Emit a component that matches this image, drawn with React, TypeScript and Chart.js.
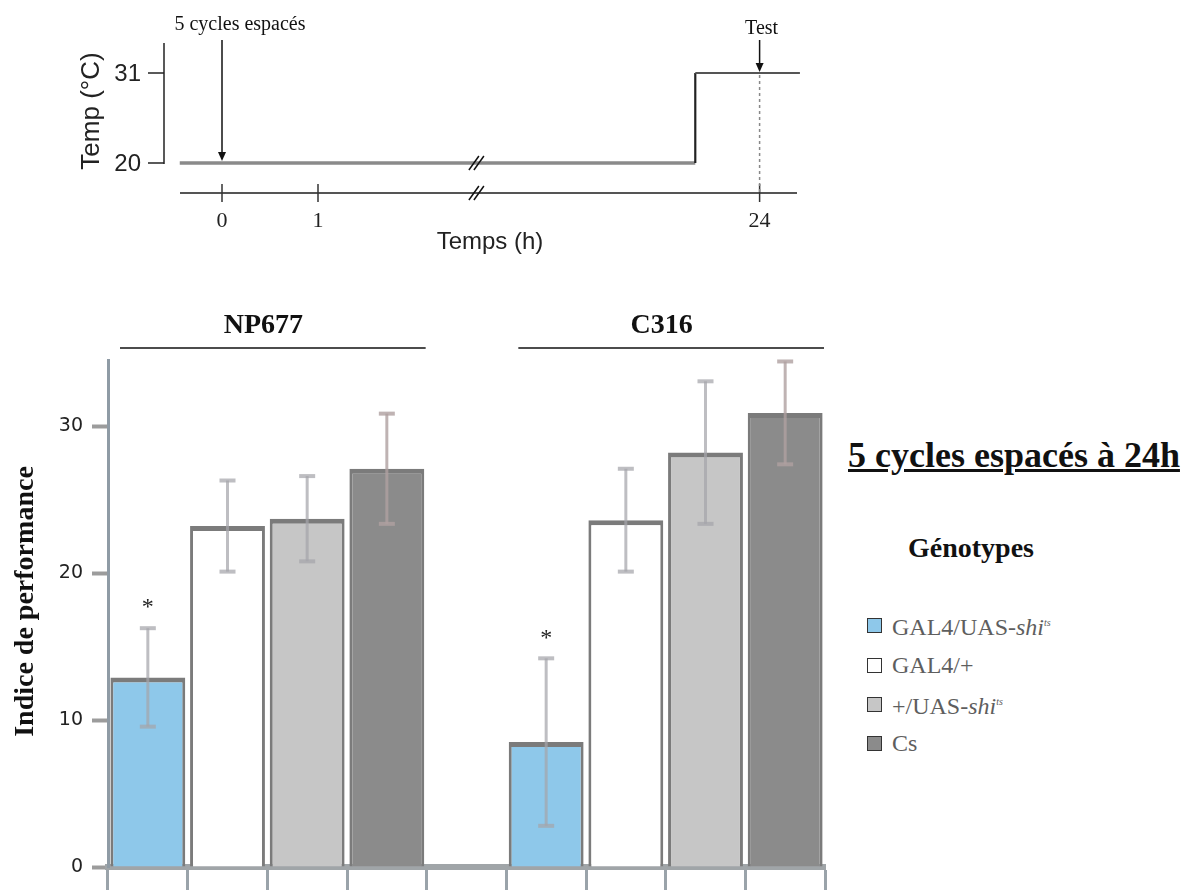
import React, { useEffect, useRef } from "react";
import { Chart, registerables } from "chart.js";

Chart.register(...registerables);

// ---------- Protocol schematic (top) ----------
const protocolTimeLabels = ["0", "1", "24"];
const protocolTimePositions = [0, 1, 5.6]; // positions on the broken time axis
const protocolTempTicks = [20, 31];
const protocolProfileX = [-0.44, 4.93, 4.93, 6.02];
const protocolProfileTemp = [20, 20, 31, 31];
const protocolBreakX = 2.65;
const protocolTrainingX = 0;
const protocolTestX = 5.6;
const protocolTrainingLabel = "5 cycles espacés";
const protocolTestLabel = "Test";

// ---------- Bar chart ----------
const groups = ["NP677", "C316"];
const genotypes = ["GAL4/UAS-shits", "GAL4/+", "+/UAS-shits", "Cs"];
const np677Means = [12.9, 23.2, 23.7, 27.1];
const np677Sem = [3.35, 3.1, 2.9, 3.75];
const c316Means = [8.5, 23.6, 28.2, 30.9];
const c316Sem = [5.7, 3.5, 4.85, 3.5];
const np677Significant = [true, false, false, false];
const c316Significant = [true, false, false, false];
const yTickValues = [0, 10, 20, 30];
const yMax = 34.5;

const genotypeFill = ["#8ec8ea", "#ffffff", "#c6c6c6", "#8b8b8b"];
const legendParts: [string, string, string][] = [
  ["GAL4/UAS-", "shi", "ts"],
  ["GAL4/+", "", ""],
  ["+/UAS-", "shi", "ts"],
  ["Cs", "", ""],
];

const groupMeans = [np677Means, c316Means];
const groupSem = [np677Sem, c316Sem];
const groupSig = [np677Significant, c316Significant];

const slotLabels: string[] = [];
const slotGroup: number[] = [];
const slotGeno: number[] = [];
groups.forEach((g, gi) => {
  if (gi > 0) {
    slotLabels.push("");
    slotGroup.push(-1);
    slotGeno.push(-1);
  }
  genotypes.forEach((ge, k) => {
    slotLabels.push(`${g} ${ge}`);
    slotGroup.push(gi);
    slotGeno.push(k);
  });
});

function seg(ctx: CanvasRenderingContext2D, x1: number, y1: number, x2: number, y2: number) {
  ctx.beginPath();
  ctx.moveTo(x1, y1);
  ctx.lineTo(x2, y2);
  ctx.stroke();
}

const protocolDecor = {
  id: "protocolDecor",
  afterDatasetsDraw(chart: any) {
    const { ctx, chartArea, scales } = chart;
    const X = (v: number) => scales.x.getPixelForValue(v);
    const Y = (v: number) => scales.y.getPixelForValue(v);
    const arrowDown = (x: number, y1: number, y2: number) => {
      seg(ctx, x, y1, x, y2 - 6);
      ctx.beginPath();
      ctx.moveTo(x - 4, y2 - 9);
      ctx.lineTo(x + 4, y2 - 9);
      ctx.lineTo(x, y2);
      ctx.closePath();
      ctx.fill();
    };
    ctx.save();
    // temperature axis
    const axisX = chartArea.left - 16;
    ctx.strokeStyle = "#222";
    ctx.fillStyle = "#222";
    ctx.lineWidth = 1.5;
    seg(ctx, axisX, chartArea.top - 4, axisX, Y(protocolTempTicks[0]) + 1);
    ctx.font = '24px "Liberation Sans"';
    ctx.textAlign = "right";
    ctx.textBaseline = "middle";
    protocolTempTicks.forEach((t) => {
      seg(ctx, axisX - 16, Y(t), axisX, Y(t));
      ctx.fillText(String(t), axisX - 23, Y(t) + 1);
    });
    ctx.save();
    ctx.translate(92, (chartArea.top + Y(protocolTempTicks[0])) / 2 + 6);
    ctx.rotate(-Math.PI / 2);
    ctx.textAlign = "center";
    ctx.font = '26px "Liberation Sans"';
    ctx.fillText("Temp (°C)", 0, 0);
    ctx.restore();

    // time axis
    const by = chartArea.bottom;
    ctx.strokeStyle = "#555";
    ctx.lineWidth = 2;
    seg(ctx, chartArea.left, by, chartArea.right - 3, by);
    ctx.strokeStyle = "#333";
    ctx.lineWidth = 1.5;
    ctx.textAlign = "center";
    ctx.font = '22px "Liberation Serif"';
    protocolTimePositions.forEach((p, i) => {
      seg(ctx, X(p), by - 9, X(p), by + 9);
      ctx.fillText(protocolTimeLabels[i], X(p), by + 28);
    });
    ctx.font = '24px "Liberation Sans"';
    ctx.fillText("Temps (h)", (chartArea.left + chartArea.right) / 2, by + 49);

    // break marks
    ctx.strokeStyle = "#111";
    ctx.lineWidth = 1.5;
    [Y(protocolTempTicks[0]), by].forEach((cy) => {
      const cx = X(protocolBreakX);
      [-2.5, 2.5].forEach((dx) => seg(ctx, cx + dx - 5, cy + 7, cx + dx + 5, cy - 7));
    });

    // dashed test line
    ctx.save();
    ctx.setLineDash([3, 3]);
    ctx.strokeStyle = "#888";
    seg(ctx, X(protocolTestX), Y(protocolTempTicks[1]) + 2, X(protocolTestX), by);
    ctx.restore();

    // arrows & labels
    ctx.strokeStyle = "#111";
    ctx.fillStyle = "#111";
    ctx.lineWidth = 1.5;
    arrowDown(X(protocolTrainingX), 40, Y(protocolTempTicks[0]) - 2);
    arrowDown(X(protocolTestX), 40, Y(protocolTempTicks[1]) - 1);
    ctx.font = '20px "Liberation Serif"';
    ctx.textBaseline = "middle";
    ctx.fillText(protocolTrainingLabel, X(protocolTrainingX) + 18, 25);
    ctx.fillText(protocolTestLabel, X(protocolTestX) + 2, 29);
    ctx.restore();
  },
};

const barDecor = {
  id: "barDecor",
  afterDatasetsDraw(chart: any) {
    const { ctx, chartArea, scales } = chart;
    const x = scales.x;
    const y = scales.y;
    ctx.save();
    chart.data.datasets.forEach((ds: any, k: number) => {
      const meta = chart.getDatasetMeta(k);
      ds.data.forEach((v: number | null, i: number) => {
        if (v == null) return;
        const bar = meta.data[i];
        const e = ds.errors[i];
        const yt = y.getPixelForValue(v + e);
        const yb = y.getPixelForValue(v - e);
        ctx.strokeStyle = k === 3 ? "rgba(175,160,160,0.8)" : "rgba(165,165,170,0.72)";
        ctx.lineWidth = 3;
        seg(ctx, bar.x, yt, bar.x, yb);
        ctx.lineWidth = 4;
        seg(ctx, bar.x - 8, yt, bar.x + 8, yt);
        seg(ctx, bar.x - 8, yb, bar.x + 8, yb);
        if (ds.significant[i]) {
          ctx.fillStyle = "#222";
          ctx.font = '24px "Liberation Serif"';
          ctx.textAlign = "center";
          ctx.textBaseline = "middle";
          ctx.fillText("*", bar.x, yt - 20);
        }
      });
    });
    ctx.restore();
  },
  afterDraw(chart: any) {
    const { ctx, chartArea, scales } = chart;
    const x = scales.x;
    const half = (x.getPixelForValue(1) - x.getPixelForValue(0)) / 2;
    ctx.save();
    groups.forEach((g, gi) => {
      const idx = slotGroup.map((s, i) => (s === gi ? i : -1)).filter((i) => i >= 0);
      const left = x.getPixelForValue(idx[0]) - half;
      const right = x.getPixelForValue(idx[idx.length - 1]) + half;
      ctx.strokeStyle = "#111";
      ctx.lineWidth = 1.5;
      seg(ctx, left + 12, chartArea.top - 12, right - 1, chartArea.top - 12);
      ctx.fillStyle = "#111";
      ctx.font = 'bold 28px "Liberation Serif"';
      ctx.textAlign = "center";
      ctx.textBaseline = "alphabetic";
      ctx.fillText(g, (left + right) / 2 - 4, chartArea.top - 27);
    });
    ctx.translate(33, (chartArea.top + chartArea.bottom) / 2 - 12);
    ctx.rotate(-Math.PI / 2);
    ctx.font = 'bold 28px "Liberation Serif"';
    ctx.textAlign = "center";
    ctx.textBaseline = "alphabetic";
    ctx.fillStyle = "#111";
    ctx.fillText("Indice de performance", 0, 0);
    ctx.restore();
  },
};

export default function App() {
  const protoRef = useRef<HTMLCanvasElement>(null);
  const barRef = useRef<HTMLCanvasElement>(null);

  useEffect(() => {
    const proto = new Chart(protoRef.current as HTMLCanvasElement, {
      type: "line",
      data: {
        datasets: [
          {
            data: protocolProfileX.map((px, i) => ({ x: px, y: protocolProfileTemp[i] })),
            pointRadius: 0,
            clip: false as any,
            borderColor: "#333",
            borderWidth: 2,
            segment: {
              borderColor: (c: any) => (c.p0DataIndex === 0 ? "#8a8a8a" : c.p0DataIndex === 1 ? "#222" : "#555"),
              borderWidth: (c: any) => (c.p0DataIndex === 0 ? 3.5 : 2.2),
            },
          } as any,
        ],
      },
      options: {
        animation: false,
        responsive: false,
        layout: { padding: { left: 180, right: 30, top: 47, bottom: 67 } },
        plugins: { legend: { display: false }, tooltip: { enabled: false } },
        scales: {
          x: { type: "linear", display: false, min: -0.4375, max: 6.0208 },
          y: { type: "linear", display: false, min: 16.333, max: 34.178 },
        },
      },
      plugins: [protocolDecor],
    });

    const datasets = genotypes.map((ge, k) => ({
      label: ge,
      data: slotLabels.map((_, i) => (slotGeno[i] === k ? groupMeans[slotGroup[i]][k] : null)),
      errors: slotLabels.map((_, i) => (slotGeno[i] === k ? groupSem[slotGroup[i]][k] : 0)),
      significant: slotLabels.map((_, i) => (slotGeno[i] === k ? groupSig[slotGroup[i]][k] : false)),
      backgroundColor: genotypeFill[k],
      borderColor: "#7b7b7b",
      borderWidth: { top: 5, left: 3, right: 3, bottom: 0 },
      borderSkipped: false,
      barPercentage: 0.94,
      categoryPercentage: 1,
    }));

    const bars = new Chart(barRef.current as HTMLCanvasElement, {
      type: "bar",
      data: { labels: slotLabels, datasets: datasets as any },
      options: {
        animation: false,
        responsive: false,
        skipNull: true,
        layout: { padding: { left: 0, right: 15, top: 70, bottom: 0 } },
        plugins: { legend: { display: false }, tooltip: { enabled: false } },
        scales: {
          x: {
            type: "category",
            offset: true,
            z: 1,
            grid: {
              offset: true,
              drawOnChartArea: false,
              drawTicks: true,
              tickLength: 24,
              tickColor: "#9aa3aa",
              tickWidth: 3,
            },
            border: { display: true, color: "#a0a5a8", width: 6 },
            ticks: { display: false },
            afterFit: (s: any) => {
              s.height = 23;
            },
          },
          y: {
            type: "linear",
            min: 0,
            max: yMax,
            afterBuildTicks: (s: any) => {
              s.ticks = yTickValues.map((v) => ({ value: v }));
            },
            afterFit: (s: any) => {
              s.width = 108;
            },
            grid: {
              drawOnChartArea: false,
              drawTicks: true,
              tickLength: 16,
              tickColor: "#9c9c9c",
              tickWidth: 4,
            },
            border: { display: true, color: "#8f9ba5", width: 3 },
            ticks: {
              padding: 9,
              color: "#222",
              font: { family: '"DejaVu Sans"', size: 19 },
            },
          },
        },
      } as any,
      plugins: [barDecor],
    });

    return () => {
      proto.destroy();
      bars.destroy();
    };
  }, []);

  const legendTops = [625, 665, 704, 743];

  return (
    <div
      style={{
        position: "absolute",
        left: 0,
        top: 0,
        width: 1192,
        height: 890,
        background: "#fff",
        overflow: "hidden",
      }}
    >
      <canvas ref={protoRef} width={830} height={260} style={{ position: "absolute", left: 0, top: 0 }} />
      <canvas ref={barRef} width={840} height={600} style={{ position: "absolute", left: 0, top: 290 }} />
      <div
        style={{
          position: "absolute",
          left: 848,
          top: 437,
          font: 'bold 36px "Liberation Serif"',
          lineHeight: "36px",
          textDecoration: "underline",
          whiteSpace: "nowrap",
          color: "#111",
        }}
      >
        5 cycles espacés à 24h
      </div>
      <div
        style={{
          position: "absolute",
          left: 908,
          top: 534,
          font: 'bold 28px "Liberation Serif"',
          lineHeight: "28px",
          whiteSpace: "nowrap",
          color: "#111",
        }}
      >
        Génotypes
      </div>
      {legendParts.map((p, k) => (
        <div
          key={k}
          style={{
            position: "absolute",
            left: 867,
            top: legendTops[k] - 12,
            height: 24,
            display: "flex",
            alignItems: "center",
            font: '24px "Liberation Serif"',
            lineHeight: "24px",
            color: "#5e5e5e",
            whiteSpace: "nowrap",
          }}
        >
          <span
            style={{
              display: "inline-block",
              width: 13,
              height: 13,
              border: "1.5px solid #333",
              background: genotypeFill[k],
              marginRight: 10,
            }}
          />
          <span>
            {p[0]}
            {p[1] && <i>{p[1]}</i>}
            {p[2] && <sup style={{ fontSize: 10, fontStyle: "italic" }}>{p[2]}</sup>}
          </span>
        </div>
      ))}
    </div>
  );
}
